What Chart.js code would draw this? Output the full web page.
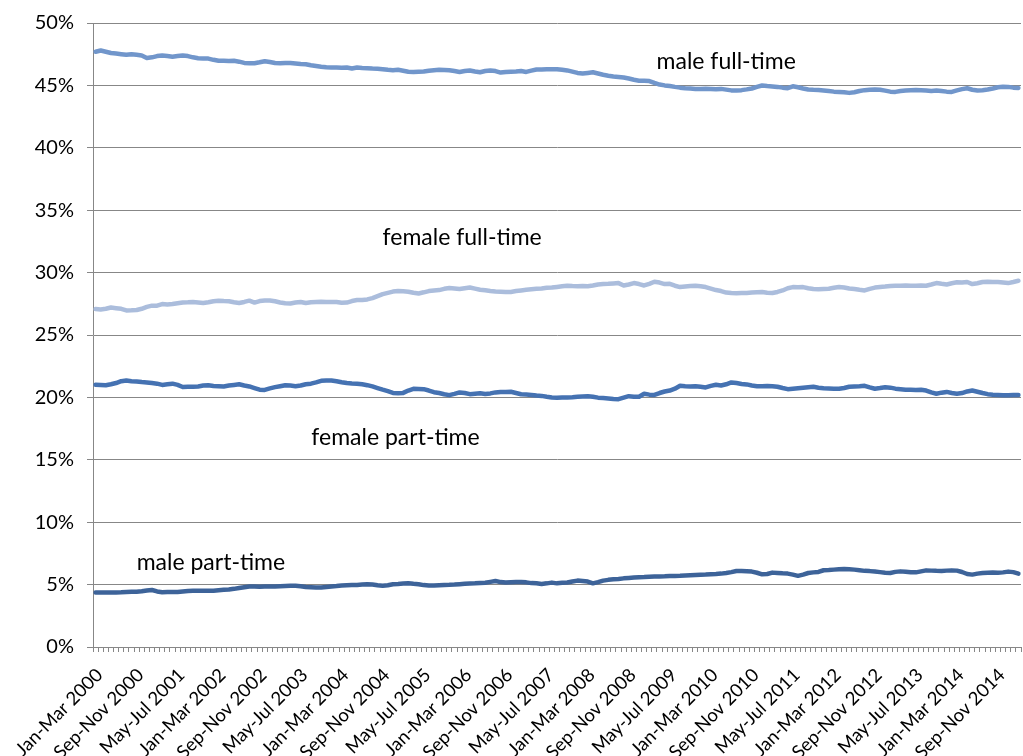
<!DOCTYPE html>
<html>
<head>
<meta charset="utf-8">
<script src="https://cdn.jsdelivr.net/npm/chart.js@4/dist/chart.umd.min.js"></script>
<style>
  html, body { margin: 0; padding: 0; background: #ffffff; }
  #wrap { width: 1023px; height: 756px; }
</style>
</head>
<body>
<div id="wrap"><canvas id="c" width="1023" height="756"></canvas></div>
<script>
// ---- Data (percent of people in employment) ----
const periodNames = ['Jan-Mar','Feb-Apr','Mar-May','Apr-Jun','May-Jul','Jun-Aug','Jul-Sep','Aug-Oct','Sep-Nov','Oct-Dec','Nov-Jan','Dec-Feb'];
const startYear = 2000;
const periodCount = 181; // Jan-Mar 2000 .. Jan-Mar 2015
const labelEvery = 8;
const yTicks = [0, 5, 10, 15, 20, 25, 30, 35, 40, 45, 50];

const maleFullTime = [
47.7,47.8,47.7,47.6,47.55,47.5,47.45,47.5,47.45,47.4,
47.2,47.25,47.35,47.4,47.35,47.3,47.35,47.4,47.35,47.25,
47.18,47.15,47.15,47.05,46.97,46.97,46.95,46.97,46.9,46.8,
46.78,46.78,46.85,46.94,46.88,46.8,46.78,46.8,46.8,46.76,
46.72,46.7,46.62,46.56,46.5,46.45,46.43,46.43,46.42,46.43,
46.35,46.43,46.4,46.38,46.35,46.33,46.3,46.25,46.22,46.25,
46.18,46.1,46.08,46.1,46.12,46.18,46.22,46.25,46.24,46.22,
46.15,46.08,46.15,46.2,46.12,46.05,46.15,46.2,46.15,46.03,
46.08,46.1,46.12,46.15,46.08,46.18,46.27,46.28,46.3,46.3,
46.3,46.25,46.2,46.1,46.0,45.95,46.0,46.05,45.95,45.85,
45.78,45.72,45.68,45.63,45.55,45.45,45.38,45.37,45.35,45.2,
45.07,45.0,44.95,44.88,44.82,44.78,44.75,44.72,44.72,44.73,
44.72,44.7,44.72,44.66,44.6,44.59,44.62,44.68,44.75,44.88,
44.99,44.95,44.92,44.88,44.82,44.78,44.93,44.85,44.75,44.67,
44.65,44.64,44.6,44.55,44.5,44.48,44.45,44.4,44.45,44.55,
44.62,44.65,44.67,44.65,44.58,44.5,44.48,44.55,44.6,44.62,
44.64,44.62,44.6,44.56,44.6,44.55,44.5,44.48,44.6,44.7,
44.77,44.65,44.59,44.62,44.67,44.75,44.85,44.9,44.88,44.82,
44.8
];

const femaleFullTime = [
27.08,27.05,27.1,27.2,27.15,27.1,26.97,26.98,27.0,27.1,
27.25,27.35,27.35,27.48,27.45,27.48,27.55,27.61,27.62,27.64,
27.6,27.56,27.62,27.7,27.75,27.72,27.7,27.62,27.56,27.65,
27.75,27.6,27.72,27.77,27.76,27.7,27.61,27.55,27.53,27.6,
27.65,27.56,27.62,27.64,27.66,27.65,27.64,27.64,27.58,27.6,
27.72,27.8,27.8,27.85,27.96,28.12,28.28,28.38,28.48,28.52,
28.5,28.47,28.38,28.33,28.42,28.52,28.57,28.6,28.7,28.76,
28.72,28.68,28.75,28.81,28.72,28.63,28.58,28.52,28.48,28.47,
28.44,28.45,28.52,28.57,28.62,28.66,28.7,28.72,28.78,28.8,
28.85,28.9,28.95,28.92,28.9,28.92,28.9,28.97,29.05,29.08,
29.1,29.13,29.16,28.97,29.05,29.16,29.08,28.97,29.1,29.27,
29.2,29.08,29.1,28.95,28.84,28.88,28.92,28.95,28.9,28.84,
28.72,28.6,28.52,28.4,28.36,28.35,28.36,28.36,28.4,28.42,
28.44,28.38,28.36,28.45,28.57,28.75,28.84,28.82,28.84,28.75,
28.68,28.66,28.68,28.7,28.78,28.84,28.8,28.72,28.68,28.62,
28.57,28.7,28.8,28.84,28.88,28.93,28.95,28.95,28.96,28.94,
28.95,28.96,28.95,29.05,29.16,29.1,29.05,29.15,29.22,29.2,
29.25,29.08,29.15,29.25,29.26,29.25,29.24,29.2,29.16,29.25,
29.35
];

const femalePartTime = [
21.01,21.0,20.98,21.05,21.15,21.3,21.36,21.3,21.28,21.23,
21.2,21.15,21.1,21.0,21.05,21.1,21.0,20.83,20.85,20.86,
20.88,20.95,20.98,20.92,20.9,20.88,20.95,21.0,21.05,20.95,
20.88,20.75,20.62,20.6,20.72,20.82,20.9,20.98,20.95,20.9,
20.95,21.05,21.1,21.2,21.33,21.35,21.36,21.3,21.22,21.15,
21.12,21.1,21.05,20.98,20.88,20.75,20.62,20.5,20.36,20.34,
20.36,20.55,20.69,20.68,20.66,20.55,20.42,20.35,20.25,20.18,
20.28,20.4,20.35,20.26,20.3,20.34,20.28,20.32,20.4,20.44,
20.44,20.45,20.35,20.25,20.23,20.2,20.15,20.12,20.05,19.99,
19.98,20.0,20.0,20.02,20.05,20.08,20.1,20.05,19.98,19.95,
19.92,19.88,19.86,19.98,20.1,20.06,20.05,20.29,20.22,20.2,
20.35,20.47,20.55,20.7,20.93,20.9,20.88,20.9,20.85,20.8,
20.92,21.01,20.95,21.05,21.2,21.15,21.08,21.04,20.95,20.9,
20.9,20.92,20.9,20.85,20.75,20.66,20.7,20.74,20.78,20.82,
20.85,20.78,20.74,20.72,20.7,20.69,20.75,20.85,20.88,20.9,
20.93,20.8,20.69,20.75,20.82,20.78,20.7,20.66,20.62,20.61,
20.6,20.62,20.55,20.4,20.29,20.38,20.44,20.35,20.29,20.35,
20.48,20.55,20.45,20.35,20.26,20.22,20.2,20.18,20.18,20.2,
20.2
];

const malePartTime = [
4.36,4.36,4.37,4.36,4.37,4.38,4.4,4.42,4.43,4.46,
4.52,4.57,4.45,4.39,4.4,4.4,4.41,4.45,4.49,4.5,
4.5,4.51,4.5,4.51,4.55,4.58,4.6,4.66,4.73,4.79,
4.84,4.84,4.83,4.84,4.85,4.84,4.86,4.88,4.9,4.9,
4.86,4.81,4.79,4.77,4.76,4.8,4.84,4.88,4.93,4.95,
4.96,4.97,5.0,5.03,5.0,4.94,4.9,4.95,5.03,5.05,
5.08,5.1,5.06,5.03,4.96,4.92,4.93,4.95,4.97,4.98,
5.0,5.03,5.06,5.08,5.1,5.13,5.15,5.22,5.29,5.2,
5.16,5.18,5.2,5.21,5.18,5.12,5.1,5.05,5.1,5.16,
5.1,5.14,5.17,5.25,5.32,5.28,5.24,5.1,5.2,5.32,
5.38,5.42,5.45,5.5,5.53,5.56,5.59,5.6,5.62,5.64,
5.65,5.66,5.68,5.69,5.7,5.72,5.74,5.76,5.78,5.8,
5.83,5.85,5.88,5.93,6.0,6.09,6.08,6.06,6.04,5.95,
5.82,5.85,5.96,5.93,5.9,5.88,5.8,5.7,5.8,5.93,
5.98,6.01,6.15,6.17,6.2,6.23,6.25,6.23,6.2,6.15,
6.1,6.08,6.05,6.0,5.95,5.93,6.02,6.06,6.03,5.99,
5.98,6.06,6.14,6.12,6.1,6.09,6.12,6.14,6.12,6.01,
5.85,5.8,5.88,5.93,5.95,5.96,5.95,5.98,6.04,6.0,
5.88
];

// Series text labels placed in data coordinates (category index, percent)
const seriesLabels = [
  { text: 'male full-time',   index: 123, value: 46.9 },
  { text: 'female full-time', index: 71.5, value: 32.8 },
  { text: 'female part-time', index: 58.5, value: 16.75 },
  { text: 'male part-time',   index: 22.5, value: 6.8 }
];

// ---- Build category labels ----
const categories = [];
for (let i = 0; i < periodCount; i++) {
  const m = i % 12;
  const y = startYear + Math.floor(i / 12) + (m >= 10 ? 1 : 0);
  categories.push(periodNames[m] + ' ' + y);
}

const FONT = 'Lato, "Open Sans", sans-serif';
const GRID = '#878787';

const labelPlugin = {
  id: 'seriesLabels',
  afterDatasetsDraw(chart) {
    const ctx = chart.ctx;
    const xs = chart.scales.x, ys = chart.scales.y;
    ctx.save();
    ctx.font = '23px ' + FONT;
    ctx.fillStyle = '#000000';
    ctx.textAlign = 'center';
    ctx.textBaseline = 'middle';
    seriesLabels.forEach(l => {
      const i0 = Math.floor(l.index), f = l.index - i0;
      const xa = xs.getPixelForValue(i0), xb = xs.getPixelForValue(i0 + 1);
      const x = xa + (xb - xa) * f;
      ctx.fillText(l.text, x, ys.getPixelForValue(l.value));
    });
    ctx.restore();
  }
};

const lineDs = (label, data, color) => ({
  label, data, borderColor: color, backgroundColor: color,
  borderWidth: 4.5, pointRadius: 0, tension: 0,
  borderJoinStyle: 'round', borderCapStyle: 'round', fill: false
});

new Chart(document.getElementById('c'), {
  type: 'line',
  data: {
    labels: categories,
    datasets: [
      lineDs('male full-time', maleFullTime, '#7196CB'),
      lineDs('female full-time', femaleFullTime, '#ABBDDC'),
      lineDs('female part-time', femalePartTime, '#4572B2'),
      lineDs('male part-time', malePartTime, '#3D6399')
    ]
  },
  options: {
    responsive: false,
    animation: false,
    layout: { padding: { top: 23, right: 2, left: 0, bottom: 0 } },
    plugins: { legend: { display: false }, tooltip: { enabled: false } },
    scales: {
      x: {
        type: 'category',
        offset: true,
        grid: { offset: true, drawOnChartArea: false, drawTicks: true, tickLength: 5, color: GRID, lineWidth: 1 },
        border: { display: true, color: GRID, width: 1 },
        ticks: {
          autoSkip: false, minRotation: 45, maxRotation: 45, padding: 12, labelOffset: 4,
          color: '#000000', font: { family: FONT, size: 18.5 },
          callback: function (val, idx) { return idx % labelEvery === 0 ? this.getLabelForValue(val) : ''; }
        },
        afterFit: s => { s.height = 109; s.paddingLeft = 0; s.paddingRight = 0; }
      },
      y: {
        min: 0, max: 50,
        afterBuildTicks: s => { s.ticks = yTicks.map(v => ({ value: v })); },
        grid: { color: GRID, lineWidth: 1, drawTicks: true, tickLength: 6 },
        border: { display: true, color: GRID, width: 1 },
        ticks: {
          padding: 13, color: '#000000', font: { family: FONT, size: 20 },
          callback: v => v + '%'
        },
        afterFit: s => { s.width = 93; s.paddingTop = 0; s.paddingBottom = 0; }
      }
    }
  },
  plugins: [labelPlugin]
});
</script>
</body>
</html>
